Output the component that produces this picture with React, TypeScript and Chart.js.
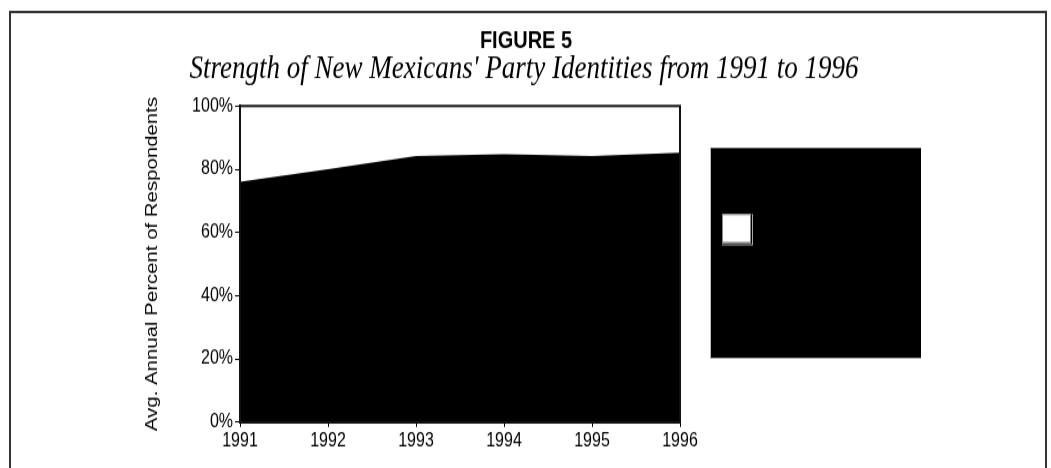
import React, { useEffect, useRef } from "react";
import { Chart, registerables } from "chart.js";

Chart.register(...registerables);

const years = ["1991", "1992", "1993", "1994", "1995", "1996"];
const identifiers = [76.0, 80.0, 84.2, 84.7, 84.2, 85.2];
const remainder = [24.0, 20.0, 15.8, 15.3, 15.8, 14.8];
const yTicks = [0, 20, 40, 60, 80, 100];
const titleText = "FIGURE 5";
const subtitleText = "Strength of New Mexicans' Party Identities from 1991 to 1996";
const yAxisTitle = "Avg. Annual Percent of Respondents";

// The reference is vertically stretched; the canvas is drawn at a reduced
// height and stretched back to 468px with a CSS transform.
const SY = 1.2;
const W = 1051;
const H = Math.round(468 / SY);

const decorPlugin = {
  id: "decor",
  beforeDraw(chart: any) {
    const ctx = chart.ctx;
    ctx.save();
    ctx.fillStyle = "#fff";
    ctx.fillRect(0, 0, chart.width, chart.height);
    // outer frame
    ctx.strokeStyle = "#333";
    ctx.lineWidth = 2;
    ctx.beginPath();
    ctx.moveTo(10, chart.height + 5);
    ctx.lineTo(10, 12 / SY);
    ctx.lineTo(1046, 12 / SY);
    ctx.lineTo(1046, chart.height + 5);
    ctx.stroke();
    // titles
    ctx.fillStyle = "#000";
    ctx.textAlign = "center";
    ctx.textBaseline = "middle";
    ctx.font = "bold 20px 'Liberation Sans', Arial, sans-serif";
    ctx.fillText(titleText, 526, 41 / SY);
    ctx.font = "italic 27px 'Liberation Serif', 'Times New Roman', serif";
    ctx.fillText(subtitleText, 524, 69 / SY);
    ctx.restore();
  },
  afterDatasetsDraw(chart: any) {
    const ctx = chart.ctx;
    const a = chart.chartArea;
    ctx.save();
    // plot frame
    ctx.strokeStyle = "#111";
    ctx.lineWidth = 2;
    ctx.strokeRect(a.left, a.top, a.right - a.left, a.bottom - a.top);
    // legend box
    const lx = a.right + 30;
    const ly = a.top + 42 / SY;
    const lh = 210 / SY;
    ctx.fillStyle = "#000";
    ctx.fillRect(lx, ly, 211, lh);
    ctx.fillStyle = "#bbb";
    ctx.fillRect(lx, ly, 1, lh);
    // white swatch with grey shadow
    const sx = lx + 12;
    const sy = a.top + 108 / SY;
    const sw = 29;
    const sh = 29 / SY;
    ctx.fillStyle = "#aaa";
    ctx.fillRect(sx, sy, sw + 2, sh + 2);
    ctx.fillStyle = "#000";
    ctx.fillRect(sx, sy, sw + 1, sh + 1);
    ctx.fillStyle = "#fff";
    ctx.fillRect(sx, sy, sw, sh);
    ctx.strokeStyle = "#888";
    ctx.lineWidth = 1;
    ctx.strokeRect(sx + 0.5, sy + 0.5, sw - 1, sh - 1);
    ctx.restore();
  },
};

export default function App() {
  const ref = useRef<HTMLCanvasElement>(null);
  useEffect(() => {
    if (!ref.current) return;
    Chart.defaults.font.family = "'Liberation Sans', Arial, sans-serif";
    Chart.defaults.font.size = 16;
    Chart.defaults.color = "#000";
    const chart = new Chart(ref.current, {
      type: "line",
      data: {
        labels: years,
        datasets: [
          {
            label: "Party identifiers",
            data: identifiers,
            fill: "origin",
            backgroundColor: "#000",
            borderColor: "#000",
            borderWidth: 0,
            pointRadius: 0,
            tension: 0,
          },
          {
            label: "Others",
            data: remainder,
            fill: "-1",
            backgroundColor: "#fff",
            borderColor: "#fff",
            borderWidth: 0,
            pointRadius: 0,
            tension: 0,
          },
        ],
      },
      options: {
        animation: false,
        responsive: false,
        maintainAspectRatio: false,
        devicePixelRatio: 1,
        layout: {
          padding: { left: 138, top: 106 / SY, right: 371, bottom: H - 422 / SY - 25 },
        },
        plugins: {
          legend: { display: false },
          tooltip: { enabled: false },
          title: { display: false },
        },
        scales: {
          x: {
            type: "category",
            offset: false,
            grid: {
              display: true,
              drawOnChartArea: false,
              drawTicks: true,
              tickLength: 5 / SY,
              color: "#000",
              lineWidth: 1,
            },
            border: { display: true, color: "#000", width: 2 },
            ticks: { padding: 2, maxRotation: 0, autoSkip: false, font: { size: 16 } },
            afterFit: (s: any) => {
              s.height = 25;
            },
          },
          y: {
            stacked: true,
            min: 0,
            max: 100,
            afterBuildTicks: (s: any) => {
              s.ticks = yTicks.map((v) => ({ value: v }));
            },
            grid: {
              display: true,
              drawOnChartArea: false,
              drawTicks: true,
              tickLength: 5,
              color: "#000",
              lineWidth: 1,
            },
            border: { display: true, color: "#000", width: 2 },
            ticks: {
              padding: 2,
              font: { size: 16 },
              callback: (v: any) => v + "%",
            },
            title: {
              display: true,
              text: yAxisTitle,
              font: { size: 17 },
              padding: { top: 4, bottom: 4 },
            },
            afterFit: (s: any) => {
              s.width = 102;
            },
          },
        },
      },
      plugins: [decorPlugin],
    });
    return () => chart.destroy();
  }, []);
  return (
    <div
      style={{
        position: "fixed",
        left: 0,
        top: 0,
        width: W,
        height: 468,
        background: "#fff",
        overflow: "hidden",
      }}
    >
      <div style={{ transform: `scaleY(${SY})`, transformOrigin: "0 0", width: W, height: H }}>
        <canvas ref={ref} width={W} height={H} style={{ display: "block", width: W, height: H }} />
      </div>
    </div>
  );
}
